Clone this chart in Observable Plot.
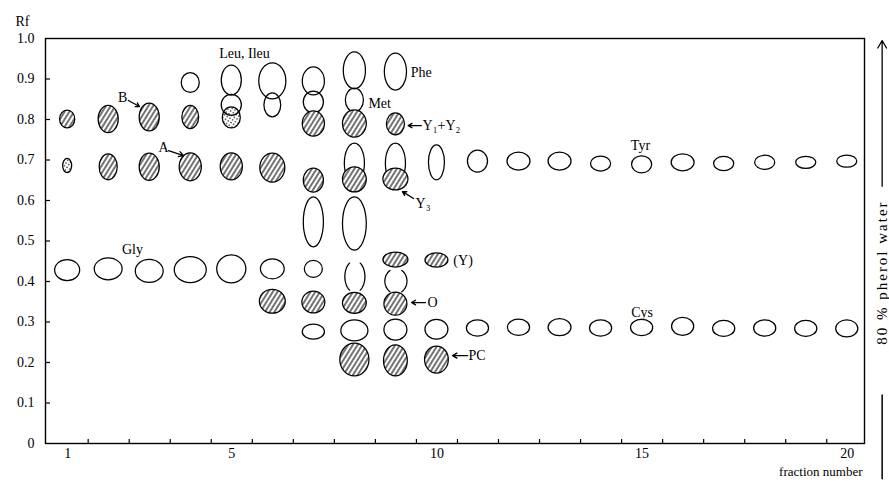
<!DOCTYPE html>
<html><head><meta charset="utf-8">
<script src="https://cdn.jsdelivr.net/npm/d3@7"></script>
<script src="https://cdn.jsdelivr.net/npm/@observablehq/plot@0.6"></script>
<style>body{margin:0;background:#fff} svg{display:block}</style>
</head><body><div id="chart"></div>
<script>
// ---- data (fraction number, Rf, spot width in fractions, spot height in Rf, kind) ----
// kind: o = open spot, h = hatched spot, d = dotted spot, p = open bracket-shaped zone
const spotFraction = [
  1,1,1,
  2,2,2,
  3,3,3,
  4,4,4,4,
  5,5,5,5,5,
  6,6,6,6,6,
  7,7,7,7,7,7,7,7,
  8,8,8,8,8,8,8,8,8,8,
  9,9,9,9,9,9,9,9,9,
  10,10,10,10,
  11,11,
  12,13,14,15,16,17,18,19,20,
  12,13,14,15,16,17,18,19,20
];
const spotRf = [
  0.800,0.685,0.427,
  0.800,0.682,0.430,
  0.805,0.682,0.425,
  0.890,0.805,0.682,0.428,
  0.896,0.835,0.804,0.683,0.430,
  0.894,0.835,0.680,0.430,0.350,
  0.894,0.842,0.789,0.649,0.546,0.430,0.348,0.275,
  0.920,0.847,0.789,0.691,0.651,0.542,0.412,0.346,0.278,0.206,
  0.917,0.788,0.691,0.652,0.453,0.401,0.344,0.280,0.204,
  0.693,0.452,0.281,0.206,
  0.696,0.284,
  0.696,0.696,0.690,0.688,0.693,0.690,0.693,0.693,0.696,
  0.286,0.286,0.284,0.285,0.288,0.283,0.284,0.283,0.283
];
const spotWidth = [
  0.37,0.22,0.61,
  0.49,0.44,0.68,
  0.49,0.49,0.68,
  0.44,0.41,0.54,0.78,
  0.49,0.49,0.44,0.54,0.71,
  0.66,0.41,0.61,0.58,0.63,
  0.54,0.49,0.54,0.49,0.49,0.44,0.56,0.54,
  0.54,0.44,0.58,0.49,0.58,0.58,0.49,0.58,0.66,0.71,
  0.54,0.44,0.49,0.61,0.61,0.54,0.56,0.56,0.58,
  0.39,0.56,0.56,0.58,
  0.49,0.54,
  0.56,0.56,0.49,0.49,0.56,0.49,0.49,0.49,0.49,
  0.54,0.56,0.54,0.54,0.54,0.54,0.54,0.54,0.54
];
const spotHeight = [
  0.044,0.035,0.052,
  0.067,0.064,0.054,
  0.069,0.067,0.057,
  0.049,0.057,0.069,0.064,
  0.074,0.052,0.052,0.067,0.069,
  0.089,0.059,0.072,0.049,0.059,
  0.069,0.054,0.062,0.059,0.123,0.042,0.054,0.037,
  0.091,0.059,0.067,0.099,0.062,0.131,0.079,0.052,0.052,0.081,
  0.091,0.054,0.099,0.054,0.037,0.062,0.057,0.052,0.077,
  0.086,0.035,0.049,0.067,
  0.054,0.040,
  0.044,0.044,0.037,0.042,0.042,0.035,0.035,0.030,0.030,
  0.040,0.042,0.040,0.040,0.044,0.040,0.040,0.040,0.042
];
const spotKind = [
  "h","d","o",
  "h","h","o",
  "h","h","o",
  "o","h","h","o",
  "o","o","d","h","o",
  "o","o","h","o","h",
  "o","o","h","h","o","o","h","o",
  "o","o","h","o","h","o","p","h","o","h",
  "o","h","o","h","h","p","h","o","h",
  "o","h","o","h",
  "o","o",
  "o","o","o","o","o","o","o","o","o",
  "o","o","o","o","o","o","o","o","o"
];

// annotation labels
const labelText   = ["Leu, Ileu","Phe","Met","Y\u2081+Y\u2082","Y\u2083","B","A","Gly","Tyr","Cys","(Y)","O","PC"];
const labelF      = [5.31, 9.36, 8.33, 9.65, 9.48, 2.34, 3.34, 2.58, 14.96, 15.0, 10.4, 9.77, 10.77];
const labelRf     = [0.963,0.916,0.840,0.785,0.593,0.854,0.731,0.480,0.736,0.323,0.452,0.348,0.217];
const labelAnchor = ["middle","start","start","start","start","middle","middle","middle","middle","middle","start","start","start"];

// annotation arrows (from label to spot)
const arrowF1  = [2.48, 3.46, 9.62, 9.43, 9.72, 10.75];
const arrowRf1 = [0.847,0.723,0.785,0.605,0.348,0.217];
const arrowF2  = [2.75, 3.82, 9.30, 9.16, 9.38, 10.38];
const arrowRf2 = [0.832,0.711,0.785,0.622,0.348,0.217];

// axes
const yTicks = [0,0.1,0.2,0.3,0.4,0.5,0.6,0.7,0.8,0.9,1.0];
const xTickLabels = [1,5,10,15,20];
const xMinorTicks = [1.5,2.5,3.5,4.5,5.5,6.5,7.5,8.5,9.5,10.5,11.5,12.5,13.5,14.5,15.5,16.5,17.5,18.5,19.5];

// solvent direction annotation
const solventText = "80 % pherol water";
const solventF = [20.85];
const solventArrowRf = [0.635, 0.995];
const solventLineRf = [0.12, -0.087];
const solventTextRf = [0.422];

// ---- build ----
const spots = spotFraction.map((f, i) => ({f, rf: spotRf[i], w: spotWidth[i], h: spotHeight[i], kind: spotKind[i]}));
const labels = labelText.map((t, i) => ({t, f: labelF[i], rf: labelRf[i], a: labelAnchor[i]}));
const arrows = arrowF1.map((f, i) => ({f1: f, rf1: arrowRf1[i], f2: arrowF2[i], rf2: arrowRf2[i]}));

const parenPts = [];
spots.filter(d => d.kind === "p").forEach((d, i) => {
  [-1, 1].forEach((side, s) => {
    for (let k = 0; k <= 14; k++) {
      const t = (-58 + k * 116 / 14) * Math.PI / 180;
      parenPts.push({x: d.f + side * d.w / 2 * Math.cos(t), y: d.rf + d.h / 2 * Math.sin(t), z: i * 2 + s});
    }
  });
});

const ell = (fill) => ({
  x1: d => d.f - d.w / 2, x2: d => d.f + d.w / 2,
  y1: d => d.rf - d.h / 2, y2: d => d.rf + d.h / 2,
  rx: 1000, ry: 1000, fill, stroke: "black", strokeWidth: 1.25
});

const plot = Plot.plot({
  width: 889, height: 483,
  marginTop: 38, marginBottom: 40, marginLeft: 45, marginRight: 25,
  style: {fontFamily: "'Liberation Serif', 'DejaVu Serif', serif", fontSize: "14px", background: "white", color: "black"},
  x: {domain: [0.46, 20.42], axis: null},
  y: {domain: [0, 1], axis: null},
  marks: [
    Plot.frame({stroke: "black", strokeWidth: 1.4}),
    Plot.axisY({ticks: yTicks, tickSize: 0, tickPadding: 11, label: null, fontSize: 14,
      tickFormat: d => d === 0 ? "0" : d.toFixed(1)}),
    Plot.axisY({ticks: yTicks.slice(1, -1), tickSize: 5, dx: 5, label: null, tickFormat: () => "", strokeWidth: 1.2}),
    Plot.axisX({ticks: xTickLabels, tickSize: 0, tickPadding: 5, label: null, fontSize: 14, tickFormat: d => String(d)}),
    Plot.axisX({ticks: xMinorTicks, tickSize: 4, dy: -4, label: null, tickFormat: () => "", strokeWidth: 1.2}),
    Plot.text(["Rf"], {frameAnchor: "top-left", dx: -30, dy: -22, text: d => d, fontSize: 14}),
    Plot.text(["fraction number"], {frameAnchor: "bottom-right", dx: -2, dy: 32, textAnchor: "end", text: d => d, fontSize: 13}),
    // spots
    Plot.rect(spots.filter(d => d.kind === "o"), ell("none")),
    Plot.line(parenPts, {x: "x", y: "y", z: "z", stroke: "black", strokeWidth: 1.25}),
    Plot.rect(spots.filter(d => d.kind === "h"), ell("url(#hatch)")),
    Plot.rect(spots.filter(d => d.kind === "d"), ell("url(#dots)")),
    // labels
    Plot.text(labels.filter(d => d.a === "middle"), {x: "f", y: "rf", text: "t", textAnchor: "middle", fontSize: 14}),
    Plot.text(labels.filter(d => d.a === "start"), {x: "f", y: "rf", text: "t", textAnchor: "start", fontSize: 14}),
    Plot.arrow(arrows, {x1: "f1", y1: "rf1", x2: "f2", y2: "rf2", stroke: "black", strokeWidth: 1.3, headLength: 6}),
    // solvent direction
    Plot.arrow(solventF, {x1: d => d, x2: d => d, y1: () => solventArrowRf[0], y2: () => solventArrowRf[1], stroke: "black", strokeWidth: 1.3, headLength: 10}),
    Plot.line(solventLineRf.map(r => ({x: solventF[0], y: r})), {x: "x", y: "y", stroke: "black", strokeWidth: 1.5}),
    Plot.text(solventTextRf, {x: () => solventF[0], y: d => d, text: () => solventText, rotate: -90, fontSize: 15})
  ]
});

const defs = d3.select(plot).insert("defs", ":first-child");
const hatch = defs.append("pattern").attr("id", "hatch").attr("patternUnits", "userSpaceOnUse")
  .attr("width", 4).attr("height", 4).attr("patternTransform", "rotate(32)");
hatch.append("rect").attr("width", 4).attr("height", 4).attr("fill", "white");
hatch.append("line").attr("x1", 2).attr("y1", -1).attr("x2", 2).attr("y2", 5).attr("stroke", "black").attr("stroke-width", 1.1);
const dots = defs.append("pattern").attr("id", "dots").attr("patternUnits", "userSpaceOnUse")
  .attr("width", 3.2).attr("height", 3.2).attr("patternTransform", "rotate(32)");
dots.append("line").attr("x1", 1.6).attr("y1", 0).attr("x2", 1.6).attr("y2", 1.6).attr("stroke", "black").attr("stroke-width", 0.9);

// wider letter spacing for the rotated solvent label, as in the original
d3.select(plot).selectAll("text").filter(function() { return this.textContent === solventText; })
  .attr("letter-spacing", "2px");

document.getElementById("chart").appendChild(plot);
</script>
</body></html>
